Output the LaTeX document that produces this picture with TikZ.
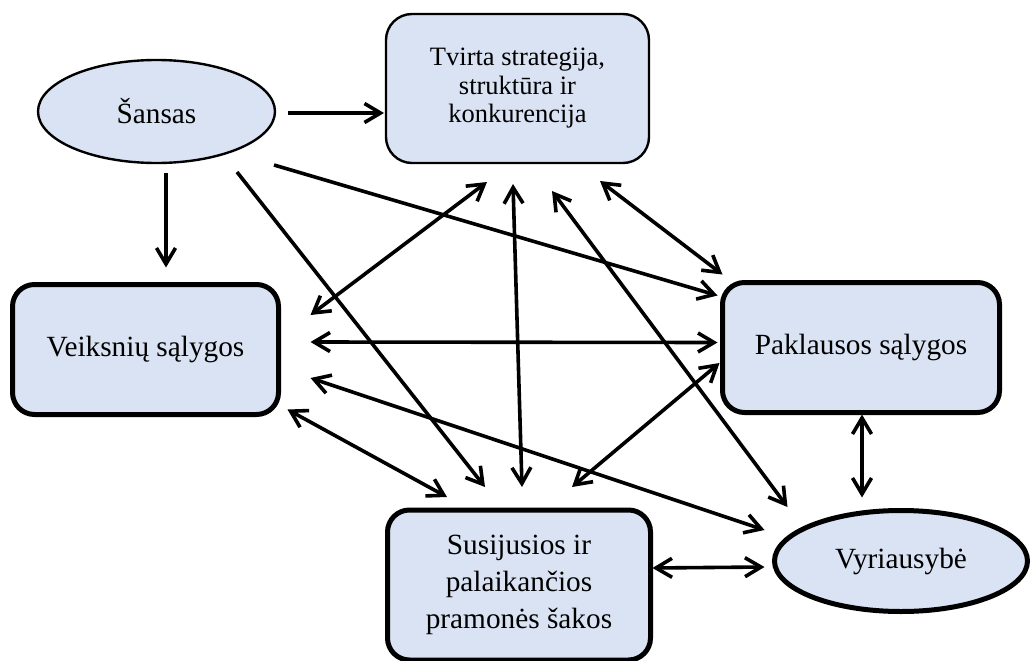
\documentclass[tikz,border=0pt]{standalone}
\usepackage{fontspec}
\setmainfont{Liberation Serif}
\usetikzlibrary{arrows.meta,shapes.geometric}
\definecolor{boxfill}{RGB}{218,227,243}
\begin{document}
\begin{tikzpicture}[x=1pt,y=-1pt,
  base/.style={fill=boxfill, draw=black, outer sep=0pt, inner sep=0pt, align=center,
    font=\fontsize{29.3}{37}\selectfont},
  thinbox/.style={base, line width=2.4pt, rounded corners=26pt},
  thickbox/.style={base, line width=5pt, rounded corners=22pt},
  thinoval/.style={base, ellipse, line width=2.4pt},
  thickoval/.style={base, ellipse, line width=5pt},
  tip/.tip={Straight Barb[length=16pt,width=19pt]},
  oneway/.style={line width=3.6pt, -tip},
  twoway/.style={line width=3.6pt, tip-tip},
]
\useasboundingbox (0,0) rectangle (1031,661);

% factor nodes
\node[thinoval, minimum width=237pt, minimum height=103pt] (s) at (156.5,111.5) {Šansas};
\node[thinbox, minimum width=263pt, minimum height=149pt,
      font=\fontsize{26.5}{28.5}\selectfont] (t) at (517.5,88.5)
  {Tvirta strategija,\\struktūra ir\\konkurencija};
\node[thickbox, minimum width=266pt, minimum height=130pt] (v) at (145.5,349.5) {Veiksnių sąlygos};
\node[thickbox, minimum width=277pt, minimum height=130pt] (p) at (861,347.5) {Paklausos sąlygos};
\node[thickbox, minimum width=263pt, minimum height=150pt] (u) at (519,585)
  {Susijusios ir\\palaikančios\\pramonės šakos};
\node[thickoval, minimum width=253pt, minimum height=101pt] (g) at (901,561) {Vyriausybė};

% influence of chance
\draw[oneway] ([shift={(13,1.5)}]s.east) -- ([shift={(-2,24.5)}]t.west);
\draw[oneway] ([shift={(9.5,10)}]s.south) -- ([shift={(20.5,-17)}]v.north);
\draw[oneway] ([shift={(80.5,9)}]s.south) -- ([shift={(-34,-23)}]u.north);
\draw[oneway] ([shift={(-1,53.5)}]s.east) -- ([shift={(-5,13)}]p.north west);

% mutual links
\draw[twoway] ([shift={(32,-34.5)}]v.east) -- ([shift={(-30.5,19)}]t.south);
\draw[twoway] ([shift={(-4.5,21)}]t.south) -- ([shift={(3,-23)}]u.north);
\draw[twoway] ([shift={(34.5,28)}]t.south) -- ([shift={(13,-54)}]g.west);
\draw[twoway] ([shift={(82.5,18)}]t.south) -- ([shift={(0,-8)}]p.north west);
\draw[twoway] ([shift={(32,-7.5)}]v.east) -- ([shift={(-5,-5)}]p.west);
\draw[twoway] ([shift={(32,28.5)}]v.east) -- ([shift={(-10,-31)}]g.west);
\draw[twoway] ([shift={(9,-5)}]v.south east) -- ([shift={(-72,-13)}]u.north);
\draw[twoway] ([shift={(-3,15.5)}]p.west) -- ([shift={(53,-23)}]u.north);
\draw[twoway] ([shift={(1,2)}]p.south) -- ([shift={(-39,-13)}]g.north);
\draw[twoway] ([shift={(2,-17)}]u.east) -- ([shift={(-10,6)}]g.west);
\end{tikzpicture}
\end{document}
